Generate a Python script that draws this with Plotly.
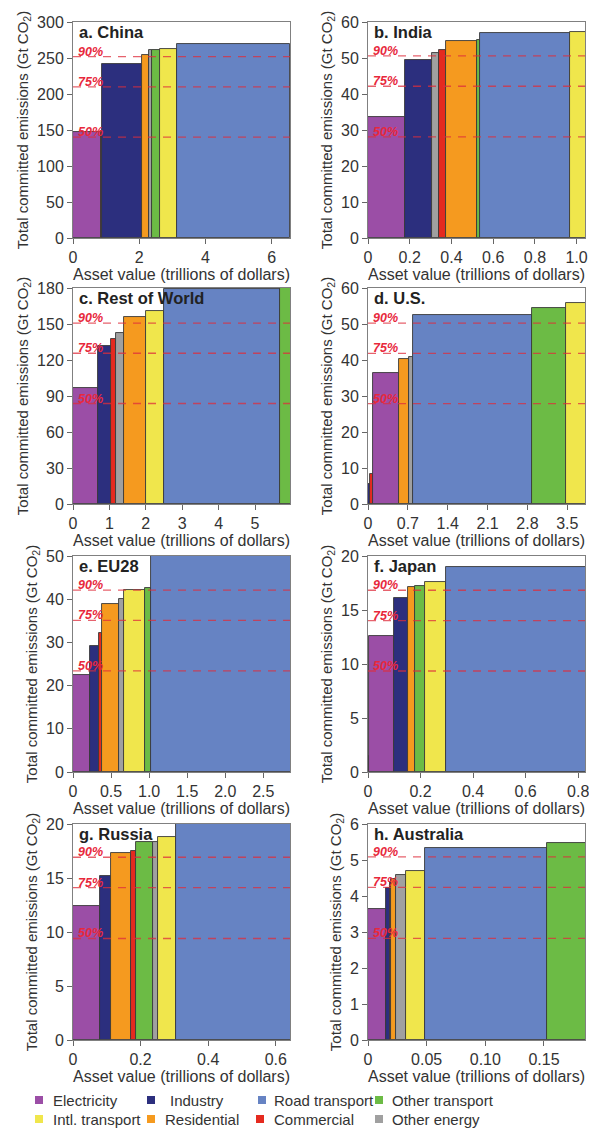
import plotly.graph_objects as go

# ---------------- data ----------------
china_sectors = ["Electricity", "Commercial", "Industry", "Residential", "Other energy",
                 "Other transport", "Intl. transport", "Road transport"]
china_assets = [0.86, 0.03, 1.18, 0.22, 0.10, 0.25, 0.51, 3.40]
china_cumulative = [147, 148, 242, 254, 260.5, 261.5, 262, 270]
china_total = 280

india_sectors = ["Electricity", "Industry", "Other energy", "Commercial", "Residential",
                 "Other transport", "Road transport", "Intl. transport"]
india_assets = [0.179, 0.127, 0.035, 0.034, 0.147, 0.015, 0.431, 0.08]
india_cumulative = [33.5, 49.5, 51.4, 52.1, 54.6, 54.9, 56.9, 57.2]
india_total = 56.2

row_sectors = ["Electricity", "Industry", "Commercial", "Other energy", "Residential",
               "Intl. transport", "Road transport", "Other transport"]
row_assets = [0.68, 0.36, 0.14, 0.21, 0.61, 0.50, 3.19, 0.40]
row_cumulative = [96.9, 132, 137.5, 142.6, 155.6, 160.6, 179.2, 182]
row_total = 167.5

us_sectors = ["Industry", "Commercial", "Electricity", "Residential", "Other energy",
              "Road transport", "Other transport", "Intl. transport"]
us_assets = [0.04, 0.04, 0.47, 0.165, 0.07, 2.095, 0.60, 0.40]
us_cumulative = [5.5, 8.3, 36.5, 40.4, 40.9, 52.6, 54.5, 55.7]
us_total = 55.8

eu_sectors = ["Electricity", "Industry", "Commercial", "Residential", "Other energy",
              "Intl. transport", "Other transport", "Road transport"]
eu_assets = [0.227, 0.11, 0.043, 0.22, 0.064, 0.284, 0.075, 1.90]
eu_cumulative = [22.5, 29.2, 32.1, 38.9, 40.0, 42.1, 42.5, 51]
eu_total = 46.8

japan_sectors = ["Commercial", "Electricity", "Industry", "Residential", "Other transport",
                 "Intl. transport", "Road transport"]
japan_assets = [0.004, 0.094, 0.053, 0.029, 0.036, 0.081, 0.56]
japan_cumulative = [1.5, 12.6, 16.1, 17.1, 17.26, 17.6, 19.0]
japan_total = 18.7

russia_sectors = ["Electricity", "Industry", "Residential", "Commercial", "Other transport",
                  "Other energy", "Intl. transport", "Road transport"]
russia_assets = [0.081, 0.032, 0.06, 0.014, 0.05, 0.015, 0.053, 0.40]
russia_cumulative = [12.4, 15.2, 17.3, 17.5, 18.3, 18.35, 18.8, 20.5]
russia_total = 18.8

australia_sectors = ["Electricity", "Industry", "Commercial", "Residential", "Other energy",
                     "Intl. transport", "Road transport", "Other transport"]
australia_assets = [0.0154, 0.0031, 0.0012, 0.0045, 0.0086, 0.0162, 0.104, 0.04]
australia_cumulative = [3.64, 4.23, 4.4, 4.47, 4.58, 4.69, 5.32, 5.48]
australia_total = 5.65

panel_titles = ["a. China", "b. India", "c. Rest of World", "d. U.S.",
                "e. EU28", "f. Japan", "g. Russia", "h. Australia"]

china_xticks = [0, 2, 4, 6]
china_xlabels = ["0", "2", "4", "6"]
china_yticks = [0, 50, 100, 150, 200, 250, 300]
india_xticks = [0, 0.2, 0.4, 0.6, 0.8, 1.0]
india_xlabels = ["0", "0.2", "0.4", "0.6", "0.8", "1.0"]
india_yticks = [0, 10, 20, 30, 40, 50, 60]
row_xticks = [0, 1, 2, 3, 4, 5]
row_xlabels = ["0", "1", "2", "3", "4", "5"]
row_yticks = [0, 30, 60, 90, 120, 150, 180]
us_xticks = [0, 0.7, 1.4, 2.1, 2.8, 3.5]
us_xlabels = ["0", "0.7", "1.4", "2.1", "2.8", "3.5"]
us_yticks = [0, 10, 20, 30, 40, 50, 60]
eu_xticks = [0, 0.5, 1.0, 1.5, 2.0, 2.5]
eu_xlabels = ["0", "0.5", "1.0", "1.5", "2.0", "2.5"]
eu_yticks = [0, 10, 20, 30, 40, 50]
japan_xticks = [0, 0.2, 0.4, 0.6, 0.8]
japan_xlabels = ["0", "0.2", "0.4", "0.6", "0.8"]
japan_yticks = [0, 5, 10, 15, 20]
russia_xticks = [0, 0.2, 0.4, 0.6]
russia_xlabels = ["0", "0.2", "0.4", "0.6"]
russia_yticks = [0, 5, 10, 15, 20]
australia_xticks = [0, 0.05, 0.10, 0.15]
australia_xlabels = ["0", "0.05", "0.10", "0.15"]
australia_yticks = [0, 1, 2, 3, 4, 5, 6]

percent_levels = [0.5, 0.75, 0.9]
percent_labels = ["50%", "75%", "90%"]

legend_order = ["Electricity", "Industry", "Road transport", "Other transport",
                "Intl. transport", "Residential", "Commercial", "Other energy"]

# ---------------- styling ----------------
sector_colors = {
    "Electricity": "#9b4ea6",
    "Industry": "#2c2f7e",
    "Road transport": "#6683c3",
    "Other transport": "#6cbb45",
    "Intl. transport": "#f0e64c",
    "Residential": "#f59a1f",
    "Commercial": "#e52a1f",
    "Other energy": "#a0a0a0",
}

FONT = "Liberation Sans, Arial, Helvetica, sans-serif"
W, H = 589, 1134
row_tops = [22, 288, 556, 824]
panel_h = 216
col_lefts = [73, 368]
panel_w = 217

panels = [
    (china_sectors, china_assets, china_cumulative, china_total, china_xticks, china_xlabels, china_yticks, [0, 6.55], [0, 300]),
    (india_sectors, india_assets, india_cumulative, india_total, india_xticks, india_xlabels, india_yticks, [0, 1.04], [0, 60]),
    (row_sectors, row_assets, row_cumulative, row_total, row_xticks, row_xlabels, row_yticks, [0, 5.96], [0, 180]),
    (us_sectors, us_assets, us_cumulative, us_total, us_xticks, us_xlabels, us_yticks, [0, 3.81], [0, 60]),
    (eu_sectors, eu_assets, eu_cumulative, eu_total, eu_xticks, eu_xlabels, eu_yticks, [0, 2.85], [0, 50]),
    (japan_sectors, japan_assets, japan_cumulative, japan_total, japan_xticks, japan_xlabels, japan_yticks, [0, 0.826], [0, 20]),
    (russia_sectors, russia_assets, russia_cumulative, russia_total, russia_xticks, russia_xlabels, russia_yticks, [0, 0.642], [0, 20]),
    (australia_sectors, australia_assets, australia_cumulative, australia_total, australia_xticks, australia_xlabels, australia_yticks, [0, 0.185], [0, 6]),
]

fig = go.Figure()
layout = {}
shapes = []
annotations = []

for i, (sectors, assets, cum, total, xt, xl, yt, xr, yr) in enumerate(panels):
    n = i + 1
    sfx = "" if n == 1 else str(n)
    r, c = divmod(i, 2)
    x0 = col_lefts[c] / W
    x1 = (col_lefts[c] + panel_w) / W
    y1 = 1 - row_tops[r] / H
    y0 = 1 - (row_tops[r] + panel_h) / H

    lefts = []
    acc = 0.0
    for a in assets:
        lefts.append(acc)
        acc += a

    fig.add_trace(go.Bar(
        x=lefts, y=cum, width=assets, offset=0, base=0,
        marker=dict(color=[sector_colors[s] for s in sectors],
                    line=dict(color="#3a3a3a", width=0.9)),
        xaxis="x" + sfx, yaxis="y" + sfx, showlegend=False,
        hovertext=sectors,
    ))

    axis_common = dict(showline=True, linecolor="#808080", linewidth=1, mirror=True,
                       ticks="outside", ticklen=5, tickcolor="#666", tickwidth=1,
                       showgrid=False, zeroline=False, automargin=False,
                       ticklabeloverflow="allow",
                       tickfont=dict(family=FONT, size=16, color="#333"))
    layout["xaxis" + sfx] = dict(
        domain=[x0, x1], range=xr, anchor="y" + sfx,
        tickmode="array", tickvals=xt, ticktext=xl,
        title=dict(text="Asset value (trillions of dollars)", standoff=1,
                   font=dict(family=FONT, size=16, color="#333")),
        **axis_common)
    layout["yaxis" + sfx] = dict(
        domain=[y0, y1], range=yr, anchor="x" + sfx,
        tickmode="array", tickvals=yt,
        title=dict(text="Total committed emissions (Gt CO<sub>2</sub>)", standoff=4,
                   font=dict(family=FONT, size=15, color="#333")),
        **axis_common)

    xref_dom = ("x" if n == 1 else "x" + sfx) + " domain"
    yref_dom = ("y" if n == 1 else "y" + sfx) + " domain"
    yref = "y" + sfx

    for lvl, lab in zip(percent_levels, percent_labels):
        yv = lvl * total
        shapes.append(dict(type="line", xref=xref_dom, x0=0, x1=1, yref=yref, y0=yv, y1=yv,
                           line=dict(color="rgba(222,45,60,0.75)", width=1.3, dash="8px,7px"),
                           layer="above"))
        annotations.append(dict(xref=xref_dom, x=0.015, yref=yref, y=yv,
                                xanchor="left", yanchor="bottom", yshift=-4,
                                text="<b><i>" + lab + "</i></b>", showarrow=False,
                                font=dict(family=FONT, size=12.5, color="#e8283c")))

    annotations.append(dict(xref=xref_dom, x=0.02, yref=yref_dom, y=1.0, yshift=1,
                            xanchor="left", yanchor="top",
                            text="<b>" + panel_titles[i] + "</b>", showarrow=False,
                            font=dict(family=FONT, size=16.5, color="#222")))

# manual legend (2 rows x 4 columns)
leg_sq_x = [35, 147, 258, 375, 35, 147, 256, 375]
leg_tx_x = [51, 168, 272, 390, 51, 163, 272, 390]
leg_y = [1100, 1100, 1100, 1100, 1119, 1119, 1119, 1119]
for name, sx, tx, ly in zip(legend_order, leg_sq_x, leg_tx_x, leg_y):
    shapes.append(dict(type="rect", xref="paper", yref="paper",
                       x0=sx / W, x1=(sx + 8) / W,
                       y0=1 - (ly + 4) / H, y1=1 - (ly - 4) / H,
                       fillcolor=sector_colors[name], line=dict(width=0)))
    annotations.append(dict(xref="paper", yref="paper", x=tx / W, y=1 - ly / H,
                            xanchor="left", yanchor="middle", text=name, showarrow=False,
                            font=dict(family=FONT, size=15, color="#333")))

fig.update_layout(
    width=W, height=H,
    margin=dict(l=0, r=0, t=0, b=0, autoexpand=False),
    paper_bgcolor="white", plot_bgcolor="white",
    barmode="overlay", bargap=0,
    font=dict(family=FONT, color="#333"),
    shapes=shapes, annotations=annotations,
    showlegend=False,
    **layout,
)

fig.write_html("out.html", config={"displayModeBar": False},
               post_script="document.body.style.margin='0';document.body.style.overflow='hidden';")
